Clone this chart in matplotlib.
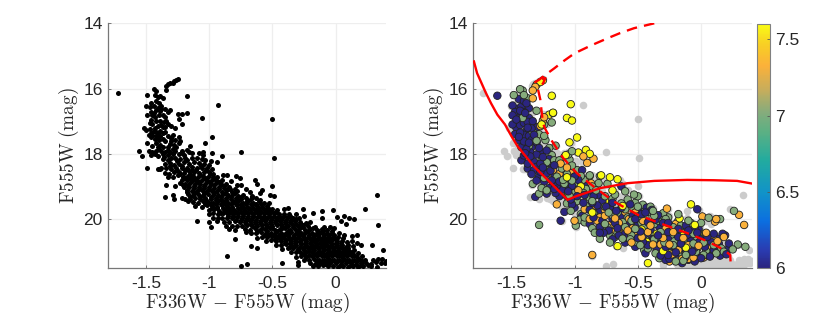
import numpy as np
import matplotlib
matplotlib.use('Agg')
import matplotlib.pyplot as plt
from matplotlib.colors import LinearSegmentedColormap

plt.rcParams['font.family'] = ['Liberation Sans', 'DejaVu Sans']
plt.rcParams['mathtext.fontset'] = 'cm'

# all stars, colour and magnitude
upper_stars = [(-1.25,15.7),(-1.26,15.74),(-1.28,15.78),(-1.29,15.82),(-1.31,15.84),(-1.33,15.86),(-1.34,15.93),(-1.34,16.04),
    (-1.725,16.15),(-1.49,16.2),(-1.44,16.02),(-1.42,16.08),(-1.43,16.2),(-1.39,16.24),(-1.18,16.22),(-1.37,16.3),(-1.42,16.38),(-1.4,16.45),
    (-1.5,16.52),(-1.47,16.58),(-1.44,16.55),(-1.38,16.52),(-1.35,16.62),(-1.42,16.66),(-1.39,16.7),(-1.31,16.65),(-1.33,16.72),(-1.49,16.82),
    (-1.45,16.8),(-1.43,16.88),(-1.4,16.82),(-1.37,16.8),(-1.35,16.88),(-1.25,16.79),(-1.22,16.78),(-1.18,16.74),(-1.24,16.92),(-1.06,16.9),
    (-0.93,16.5),(-0.5,16.93),(-1.46,16.96),(-1.42,17.0),(-1.39,16.98),(-1.36,17.02),(-1.33,17.08),(-1.22,17.08),(-1.45,17.1),(-1.41,17.14),
    (-1.37,17.18),(-1.3,17.15),(-1.27,17.2),(-1.52,17.22),(-1.5,17.26),(-1.47,17.25),(-1.44,17.3),(-1.42,17.33),(-1.39,17.3),(-1.35,17.32),
    (-1.45,17.42),(-1.42,17.46),(-1.39,17.44),(-1.29,17.42),(-1.24,17.47),(-1.3,17.52),(-0.98,17.5),(-1.43,17.55),(-1.4,17.58),(-1.37,17.56),
    (-1.27,17.58),(-1.23,17.6),(-1.49,17.66),(-1.42,17.66),(-1.03,17.66),(-1.31,17.7),(-1.28,17.72),(-1.24,17.68),(-1.41,17.78),(-1.37,17.8),
    (-1.33,17.78),(-1.29,17.84),(-1.26,17.8),(-1.15,17.76),(-1.56,17.92),(-1.48,17.92),(-1.45,17.95),(-1.42,17.92),(-1.38,17.92),(-1.35,17.95),
    (-1.31,17.94),(-1.27,17.9),(-1.22,17.9),(-1.18,17.88),(-1.16,17.95),(-0.98,17.96),(-0.75,17.93),(-1.05,17.93),(-1.53,18.08),(-1.46,18.05),
    (-1.41,18.08),(-1.37,18.02),(-1.33,18.05),(-1.29,18.02),(-1.24,18.02),(-1.2,18.04),(-1.05,18.05),(-0.9,18.06),(-0.49,18.12),(-0.99,18.22),
    (-0.94,18.26),(-1.41,16.26),(-1.46,16.45),(-1.41,16.6),(-1.46,16.72),(-1.38,16.62),(-1.44,16.76),(-1.34,16.98),(-1.47,17.06),(-1.43,17.22),
    (-1.385,17.12),(-1.35,17.18),(-1.46,17.35),(-1.48,17.42),(-1.41,17.38),(-1.37,17.37),(-1.33,17.46),(-1.46,17.5),(-1.405,17.5),(-1.35,17.62),
    (-1.39,17.72),(-1.45,17.75),(-1.3,17.62),(-1.325,17.88),(-1.395,17.86),(-1.43,18.0),(-1.36,18.1),(-1.22,17.97),(-1.14,17.98),(-1.08,17.98)]

band_upper = [(-1.49,18.42),(-1.41,18.48),(-1.38,18.45),(-1.37,18.15),(-1.33,18.18),(-1.3,18.12),(-1.27,18.14),(-1.23,18.16),(-1.19,18.14),(-1.14,18.12),
    (-1.1,18.12),(-1.06,18.15),(-1.03,18.18),(-1.35,18.3),(-1.31,18.28),(-1.28,18.33),(-1.24,18.3),(-1.2,18.26),(-1.16,18.3),(-1.12,18.25),
    (-1.08,18.28),(-1.04,18.3),(-1.0,18.34),(-1.39,18.48),(-1.34,18.42),(-1.3,18.46),(-1.26,18.44),(-1.22,18.42),(-1.18,18.44),(-1.14,18.4),
    (-1.1,18.42),(-1.06,18.44),(-1.02,18.44),(-0.98,18.46),(-1.35,18.58),(-1.32,18.62),(-1.28,18.56),(-1.24,18.56),(-1.2,18.58),(-1.16,18.54),
    (-1.12,18.55),(-1.08,18.58),(-1.04,18.56),(-1.0,18.56),(-0.97,18.62),(-1.33,18.7),(-1.29,18.7),(-1.25,18.66),(-1.21,18.7),(-1.17,18.68),
    (-1.13,18.68),(-1.09,18.7),(-1.05,18.68),(-1.01,18.7),(-0.97,18.7),(-0.94,18.72),(-0.89,18.66),(-0.86,18.66),(-0.79,18.67),(-0.76,18.75),
    (-0.64,18.8),(-1.22,18.8),(-1.18,18.8),(-1.14,18.82),(-1.1,18.82),(-1.06,18.8),(-1.02,18.82),(-0.98,18.8),(-0.94,18.82),(-0.9,18.8),
    (-0.83,18.84),(-0.62,18.92),(-1.23,18.9),(-1.19,18.92),(-1.15,18.9),(-1.11,18.92),(-1.07,18.94),(-1.03,18.92),(-0.99,18.92),(-0.95,18.9),
    (-0.91,18.92),(-0.87,18.94),(-0.78,18.96),(-0.75,18.97),(-0.5,18.98),(-1.34,18.96),(-1.27,18.98),(-1.2,19.02),(-1.16,19.02),(-1.12,19.04),
    (-1.08,19.02),(-1.04,19.04),(-1.0,19.02),(-0.96,19.04),(-0.92,19.02),(-0.88,19.06),(-0.84,19.02),(-0.8,19.08),(-0.71,19.08),(-0.58,19.12),
    (-1.18,19.12),(-1.14,19.14),(-1.1,19.14),(-1.06,19.12),(-1.02,19.14),(-0.98,19.14),(-0.94,19.14),(-0.9,19.16),(-0.86,19.12),(-0.82,19.16),
    (-0.78,19.14),(-0.68,19.18),(-0.6,19.2),(-1.29,19.26),(-1.17,19.24),(-1.13,19.26),(-1.09,19.24),(-1.05,19.26),(-1.01,19.24),(-0.97,19.26),
    (-0.93,19.26),(-0.89,19.24),(-0.85,19.26),(-0.81,19.24),(-0.77,19.28),(-0.73,19.26),(-0.66,19.28),(-0.52,19.26),(-0.49,19.3),(-1.35,19.32),
    (-1.28,19.4),(-1.22,19.35),(-1.19,19.38),(-1.15,19.38),(-1.11,19.36),(-1.07,19.38),(-1.03,19.36),(-0.99,19.38),(-0.95,19.36),(-0.91,19.38),
    (-0.87,19.36),(-0.83,19.38),(-0.79,19.36),(-0.75,19.4),(-0.71,19.36),(-0.67,19.38),(-0.63,19.36),(-0.6,19.42)]

band_middle = [(-1.17,19.46),(-1.13,19.48),(-1.09,19.5),(-1.05,19.46),(-1.01,19.48),(-0.97,19.5),(-0.93,19.46),(-0.89,19.48),(-0.85,19.5),(-0.81,19.48),
    (-0.77,19.46),(-0.73,19.5),(-0.69,19.46),(-0.65,19.5),(-0.61,19.46),(-0.57,19.5),(-0.53,19.52),(-1.11,19.6),(-1.06,19.62),(-1.02,19.58),
    (-0.98,19.6),(-0.94,19.62),(-0.9,19.58),(-0.86,19.6),(-0.82,19.62),(-0.78,19.58),(-0.74,19.6),(-0.7,19.62),(-0.66,19.58),(-0.62,19.6),
    (-0.58,19.62),(-0.54,19.6),(-0.41,19.68),(-0.38,19.66),(-0.5,19.7),(-0.46,19.72),(-1.0,19.72),(-0.96,19.7),(-0.92,19.74),(-0.88,19.7),
    (-0.84,19.72),(-0.8,19.74),(-0.76,19.7),(-0.72,19.74),(-0.68,19.7),(-0.64,19.72),(-0.6,19.74),(-0.56,19.72),(-0.52,19.76),(-0.26,19.68),
    (-1.0,19.84),(-0.97,19.82),(-0.93,19.86),(-0.89,19.82),(-0.85,19.84),(-0.81,19.86),(-0.77,19.82),(-0.73,19.86),(-0.69,19.82),(-0.65,19.86),
    (-0.61,19.84),(-0.57,19.82),(-0.53,19.86),(-0.49,19.82),(-0.45,19.84),(-0.41,19.86),(-0.37,19.84),(-0.31,19.86),(-0.18,19.82),(-0.11,19.75),
    (-0.02,19.73),(-1.1,20.05),(-0.97,19.96),(-0.93,19.96),(-0.9,19.98),(-0.86,19.96),(-0.82,19.98),(-0.78,19.94),(-0.74,19.98),(-0.7,19.96),
    (-0.66,19.98),(-0.62,19.94),(-0.58,19.98),(-0.54,19.96),(-0.5,19.98),(-0.46,19.96),(-0.42,19.98),(-0.38,19.94),(-0.34,19.98),(-0.29,19.96),
    (-0.25,19.92),(-0.11,19.98),(0.01,19.95),(0.07,19.92),(-1.0,20.08),(-0.94,20.06),(-0.88,20.08),(-0.84,20.1),(-0.8,20.06),(-0.76,20.08),
    (-0.72,20.1),(-0.68,20.06),(-0.64,20.08),(-0.6,20.1),(-0.56,20.06),(-0.52,20.1),(-0.48,20.08),(-0.44,20.06),(-0.4,20.1),(-0.36,20.08),
    (-0.32,20.06),(-0.28,20.1),(-0.2,20.08),(0.11,19.97),(0.15,20.0),(0.04,20.05),(-0.99,20.24),(-0.87,20.22),(-0.82,20.2),(-0.78,20.2),
    (-0.74,20.22),(-0.7,20.18),(-0.66,20.22),(-0.62,20.2),(-0.58,20.18),(-0.54,20.22),(-0.5,20.2),(-0.46,20.18),(-0.42,20.22),(-0.38,20.2),
    (-0.34,20.18),(-0.3,20.22),(-0.26,20.18),(-0.22,20.2),(-0.16,20.24),(-0.09,20.24),(-0.04,20.25),(-0.01,20.26),(0.08,20.15),(0.34,20.18),
    (0.33,19.25),(0.23,19.68),(-0.84,20.3),(-0.8,20.32),(-0.72,20.3),(-0.68,20.32),(-0.64,20.28),(-0.6,20.32),(-0.56,20.3),(-0.52,20.28),
    (-0.48,20.32),(-0.44,20.3),(-0.4,20.28),(-0.36,20.32),(-0.32,20.3),(-0.28,20.28),(-0.24,20.32),(-0.2,20.3),(-0.15,20.33),(-0.11,20.3),
    (-0.07,20.33),(-0.03,20.36)]

band_lower = [(-0.71,20.4),(-0.67,20.42),(-0.63,20.44),(-0.59,20.4),(-0.55,20.44),(-0.51,20.42),(-0.47,20.4),(-0.43,20.44),(-0.39,20.42),(-0.35,20.4),
    (-0.31,20.44),(-0.27,20.42),(-0.23,20.4),(-0.19,20.44),(-0.15,20.42),(-0.11,20.4),(-0.07,20.44),(-0.03,20.42),(0.03,20.42),(0.07,20.5),
    (0.13,20.52),(0.17,20.5),(-0.8,20.6),(-0.62,20.58),(-0.58,20.54),(-0.54,20.56),(-0.5,20.52),(-0.46,20.56),(-0.42,20.54),(-0.38,20.52),
    (-0.34,20.56),(-0.3,20.54),(-0.26,20.52),(-0.22,20.56),(-0.18,20.54),(-0.14,20.52),(-0.1,20.56),(-0.06,20.54),(-0.02,20.56),(0.02,20.54),
    (0.06,20.58),(-0.55,20.66),(-0.51,20.64),(-0.47,20.68),(-0.43,20.66),(-0.39,20.64),(-0.35,20.68),(-0.31,20.66),(-0.27,20.64),(-0.23,20.68),
    (-0.19,20.66),(-0.15,20.64),(-0.11,20.68),(-0.07,20.66),(-0.03,20.64),(0.01,20.68),(0.05,20.66),(0.09,20.7),(0.13,20.68),(0.17,20.72),
    (-0.67,20.84),(-0.62,20.88),(-0.47,20.78),(-0.43,20.8),(-0.39,20.76),(-0.35,20.8),(-0.31,20.78),(-0.27,20.76),(-0.23,20.8),(-0.19,20.78),
    (-0.15,20.76),(-0.11,20.8),(-0.07,20.78),(-0.03,20.76),(0.01,20.8),(0.05,20.78),(0.1,20.8),(0.14,20.82),(0.2,20.8),(0.29,20.78),
    (-0.42,20.92),(-0.38,20.9),(-0.34,20.88),(-0.3,20.92),(-0.26,20.9),(-0.22,20.88),(-0.18,20.92),(-0.14,20.9),(-0.1,20.88),(-0.06,20.92),
    (-0.02,20.9),(0.02,20.88),(0.06,20.92),(0.1,20.9),(0.15,20.94),(0.38,20.95),(-0.35,21.02),(-0.31,21.0),(-0.27,21.04),(-0.23,21.0),
    (-0.19,21.02),(-0.15,21.04),(-0.11,21.0),(-0.07,21.04),(-0.03,21.02),(0.01,21.0),(0.05,21.04),(0.09,21.02),(0.13,21.0),(0.18,21.04),
    (-0.86,21.12),(-0.31,21.15),(-0.27,21.12),(-0.23,21.16),(-0.19,21.12),(-0.15,21.14),(-0.11,21.12),(-0.07,21.16),(-0.03,21.14),(0.01,21.12),
    (0.05,21.16),(0.09,21.14),(0.13,21.12),(0.17,21.16),(0.21,21.14),(-0.25,21.24),(-0.21,21.26),(-0.17,21.22),(-0.13,21.26),(-0.09,21.24),
    (-0.05,21.22),(-0.01,21.26),(0.03,21.24),(0.07,21.22),(0.11,21.26),(0.15,21.24),(0.19,21.22),(0.23,21.26),(0.3,21.27),(0.34,21.22),
    (0.37,21.22),(0.4,21.28),(-0.7,21.38),(-0.75,21.43),(-0.42,21.35),(-0.3,21.42),(-0.3,21.32),(-0.2,21.36),(-0.16,21.38),(-0.12,21.34),
    (-0.08,21.38),(-0.04,21.36),(0.0,21.34),(0.04,21.38),(0.08,21.36),(0.12,21.34),(0.16,21.38),(0.2,21.36),(0.24,21.34),(0.28,21.38),
    (0.32,21.32),(0.36,21.34),(0.39,21.35),(-0.02,21.44),(0.02,21.46),(0.06,21.44),(0.1,21.46),(0.14,21.44),(0.18,21.46),(0.22,21.44),
    (0.26,21.42),(0.33,21.46),(-0.06,21.45),(-0.1,21.42)]

band_core = [(-1.315,18.37),(-1.255,18.23),(-1.215,18.36),(-1.175,18.2),(-1.135,18.49),(-1.255,18.5),(-1.195,18.5),(-1.155,18.62),(-1.105,18.5),(-1.065,18.36),
    (-1.025,18.5),(-1.23,18.63),(-1.19,18.75),(-1.15,18.74),(-1.115,18.76),(-1.075,18.64),(-1.035,18.75),(-0.995,18.63),(-0.955,18.78),(-1.21,18.97),
    (-1.165,18.96),(-1.125,18.98),(-1.085,18.87),(-1.045,18.98),(-1.005,18.87),(-0.965,18.97),(-0.925,18.87),(-0.885,18.99),(-1.175,19.18),(-1.125,19.2),
    (-1.085,19.08),(-1.04,19.2),(-1.005,19.08),(-0.965,19.2),(-0.925,19.09),(-0.875,19.19),(-0.835,19.09),(-0.795,19.21),(-1.155,19.32),(-1.07,19.32),
    (-1.025,19.42),(-0.985,19.32),(-0.945,19.42),(-0.905,19.31),(-0.865,19.43),(-0.825,19.31),(-0.785,19.43),(-0.745,19.33),(-0.705,19.44),(-0.665,19.33),
    (-1.03,19.53),(-0.99,19.55),(-0.95,19.54),(-0.91,19.53),(-0.87,19.55),(-0.83,19.54),(-0.79,19.53),(-0.75,19.55),(-0.71,19.54),(-0.67,19.55),
    (-0.63,19.53),(-0.59,19.55),(-0.975,19.66),(-0.935,19.67),(-0.895,19.65),(-0.855,19.66),(-0.815,19.68),(-0.775,19.65),(-0.735,19.67),(-0.695,19.66),
    (-0.655,19.65),(-0.615,19.67),(-0.575,19.67),(-0.535,19.65),(-0.91,19.8),(-0.87,19.77),(-0.83,19.79),(-0.79,19.78),(-0.75,19.79),(-0.71,19.78),
    (-0.67,19.77),(-0.63,19.79),(-0.59,19.78),(-0.55,19.79),(-0.51,19.78),(-0.47,19.79),(-0.85,19.9),(-0.81,19.92),(-0.77,19.9),(-0.73,19.92),
    (-0.69,19.91),(-0.65,19.92),(-0.61,19.9),(-0.57,19.91),(-0.53,19.92),(-0.49,19.9),(-0.45,19.91),(-0.41,19.92),(-0.36,19.9),(-0.79,20.03),
    (-0.75,20.03),(-0.71,20.02),(-0.67,20.03),(-0.63,20.02),(-0.59,20.03),(-0.55,20.01),(-0.51,20.03),(-0.47,20.02),(-0.43,20.03),(-0.39,20.02),
    (-0.35,20.03),(-0.31,20.01),(-0.71,20.14),(-0.67,20.14),(-0.63,20.15),(-0.59,20.14),(-0.55,20.15),(-0.51,20.14),(-0.47,20.13),(-0.43,20.15),
    (-0.39,20.14),(-0.35,20.13),(-0.31,20.15),(-0.27,20.14),(-0.23,20.13),(-0.62,20.36),(-0.58,20.26),(-0.54,20.36),(-0.5,20.26),(-0.46,20.36),
    (-0.42,20.26),(-0.38,20.36),(-0.34,20.25),(-0.3,20.36),(-0.26,20.25),(-0.22,20.36),(-0.18,20.26),(-0.14,20.37),(-0.1,20.36),(-0.57,20.49),
    (-0.53,20.49),(-0.49,20.48),(-0.45,20.49),(-0.41,20.48),(-0.37,20.47),(-0.33,20.49),(-0.29,20.48),(-0.25,20.47),(-0.21,20.49),(-0.17,20.48),
    (-0.13,20.47),(-0.09,20.49),(-0.05,20.48),(-0.01,20.49),(-0.48,20.61),(-0.44,20.6),(-0.4,20.6),(-0.36,20.61),(-0.32,20.6),(-0.28,20.61),
    (-0.24,20.6),(-0.2,20.61),(-0.16,20.6),(-0.12,20.61),(-0.08,20.6),(-0.04,20.61),(0.0,20.6),(-0.4,20.72),(-0.36,20.73),(-0.32,20.72),
    (-0.28,20.71),(-0.24,20.73),(-0.2,20.72),(-0.16,20.71),(-0.12,20.73),(-0.08,20.72),(-0.04,20.71),(0.0,20.73),(0.04,20.72),(-0.36,20.85),
    (-0.32,20.84),(-0.28,20.85),(-0.24,20.84),(-0.2,20.85),(-0.16,20.84),(-0.12,20.85),(-0.08,20.84),(-0.04,20.85),(0.0,20.84),(0.04,20.85),
    (0.08,20.85),(-0.29,20.97),(-0.25,20.96),(-0.21,20.97),(-0.17,20.96),(-0.13,20.97),(-0.09,20.96),(-0.05,20.97),(-0.01,20.96),(0.03,20.97),
    (0.07,20.96),(0.11,20.97),(-0.25,21.08),(-0.21,21.09),(-0.17,21.08),(-0.13,21.07),(-0.09,21.09),(-0.05,21.08),(-0.01,21.07),(0.03,21.09),
    (0.07,21.08),(0.11,21.07),(0.15,21.09),(-0.15,21.3),(-0.11,21.3),(-0.07,21.28),(-0.03,21.3),(0.01,21.3),(0.05,21.29),(0.09,21.3),(0.13,21.29),
    (0.17,21.3),(0.21,21.29),(-0.14,21.43),(-0.18,21.43),(0.04,21.42),(0.12,21.41),(0.2,21.41),(0.28,21.44)]

# dereddened stars of the right panel, one list per age group
age_groups = [6.0, 7.02, 7.32, 7.6]
young_stars = [(-1.61,16.22),(-1.49,16.52),(-1.45,16.62),(-1.42,16.55),(-1.4,16.38),(-1.38,16.45),(-1.36,16.6),(-1.49,16.82),(-1.46,16.95),(-1.42,16.85),
    (-1.39,16.75),(-1.36,16.9),(-1.33,17.0),(-1.49,17.1),(-1.46,17.2),(-1.43,17.12),(-1.4,17.05),(-1.37,17.2),(-1.34,17.22),(-1.3,17.18),
    (-1.47,17.4),(-1.43,17.35),(-1.4,17.42),(-1.36,17.45),(-1.32,17.42),(-1.44,17.58),(-1.4,17.62),(-1.36,17.66),(-1.3,17.65),(-1.42,17.8),
    (-1.38,17.86),(-1.34,17.8),(-1.28,17.82),(-1.22,17.9),(-1.4,18.05),(-1.35,18.08),(-1.3,18.02),(-1.25,18.1),(-1.2,18.16),(-1.37,18.3),
    (-1.32,18.25),(-1.27,18.3),(-1.22,18.36),(-1.16,18.35),(-1.37,18.45),(-1.32,18.5),(-1.27,18.55),(-1.22,18.6),(-1.16,18.62),(-1.1,18.6),
    (-1.24,18.85),(-1.18,18.82),(-1.12,18.85),(-1.06,18.9),(-1.0,18.7),(-0.97,18.8),(-1.16,19.08),(-1.1,19.1),(-1.05,19.15),(-0.98,19.1),
    (-0.9,18.98),(-1.31,19.32),(-1.22,19.22),(-1.12,19.3),(-1.06,19.3),(-0.98,19.3),(-0.92,19.26),(-0.85,19.3),(-1.02,19.55),(-0.93,19.5),
    (-0.86,19.5),(-0.78,19.44),(-0.7,19.5),(-0.63,19.0),(-1.11,20.05),(-0.88,19.72),(-0.8,19.72),(-0.72,19.65),(-0.63,19.66),(-0.56,19.55),
    (-0.85,19.95),(-0.78,20.05),(-0.7,20.0),(-0.62,19.92),(-0.54,19.9),(-0.47,19.85),(-0.39,19.72),(-0.43,19.65),(-0.8,20.25),(-0.73,20.35),
    (-0.66,20.28),(-0.58,20.2),(-0.5,20.15),(-0.42,20.1),(-0.36,20.02),(-0.65,20.5),(-0.56,20.42),(-0.48,20.38),(-0.4,20.32),(-0.33,20.24),
    (-0.26,20.12),(-0.03,19.7),(-0.5,20.58),(-0.42,20.55),(-0.34,20.5),(-0.26,20.4),(-0.18,20.3),(-0.12,20.2),(-0.05,20.25),(-0.02,20.3),
    (-0.42,20.8),(-0.34,20.72),(-0.26,20.62),(-0.18,20.55),(-0.1,20.48),(-0.03,20.42),(0.05,20.55),(0.17,20.45),(0.19,20.5),(-0.32,20.95),
    (-0.24,20.85),(-0.16,20.75),(-0.08,20.68),(0.0,20.62),(0.08,20.7),(0.14,20.75),(0.22,20.9),(-0.2,21.02),(-0.12,20.95),(-0.05,20.88),
    (0.03,20.85),(0.1,20.95),(0.22,20.75),(-0.2,21.18),(-0.13,21.2),(-0.05,21.12),(0.0,21.2),(0.05,21.1),(-0.1,21.25),(-0.32,21.12),
    (-0.25,21.22),(0.13,20.6),(-1.28,18.7),(-1.18,18.42),(-0.94,18.5),(-1.4,16.72),(-1.44,17.02),(-1.34,17.58),(-1.26,17.96),(-1.02,18.98),
    (-0.6,20.45),(-0.46,20.7),(-0.28,20.85),(-0.07,21.0),
    (-1.44,16.32),(-1.47,16.72),(-1.43,16.68),(-1.37,17.02),(-1.44,17.48),(-1.38,17.3),(-1.34,17.48),(-1.4,17.72),(-1.35,17.95),(-1.42,18.2),
    (-1.39,17.98),(-1.3,18.4),(-1.25,18.42),(-1.34,18.62),(-1.19,18.52),(-1.3,18.82),(-1.14,18.98),(-1.2,19.05),(-1.08,19.0),(-1.15,19.2),
    (-1.03,19.4),(-0.88,19.14),(-0.8,19.28),(-0.75,19.62),(-0.82,19.58),(-0.67,19.75),(-0.5,19.72),(-0.44,19.8),(-0.68,20.12),(-0.52,20.0),
    (-0.34,19.88),(-0.58,20.3),(-0.45,20.48),(-0.3,20.12),(-0.2,20.18),(-0.38,20.62),(-0.1,20.35),(0.1,20.45),(-0.2,20.9),(-0.02,20.72),
    (-1.0,19.65),(-0.94,19.9),(-0.88,20.15),(-0.77,20.42),(-0.7,20.62),(-0.6,20.72),(-0.52,20.85),(-0.44,21.05),(-0.35,20.9),(-0.28,21.25),
    (-0.15,21.35),(-0.05,21.3),(-1.08,19.78),(-0.8,20.42),(-0.58,20.58),(-0.26,21.1),(-0.02,21.12),(0.07,21.15),(0.15,21.12),(0.2,21.08)]

mid_stars = [(-1.43,16.02),(-1.41,16.06),(-1.48,16.2),(-1.4,16.2),(-1.37,16.3),(-1.3,16.68),(-1.24,17.1),(-1.18,17.04),(-1.17,16.75),(-1.36,17.75),
    (-1.28,17.4),(-1.23,17.58),(-1.3,17.6),(-1.2,17.82),(-1.15,17.75),(-1.26,18.2),(-1.18,18.04),(-1.08,18.1),(-1.02,17.92),(-1.05,18.02),
    (-1.12,18.2),(-1.02,18.36),(-0.98,18.5),(-1.2,18.5),(-1.14,18.7),(-1.06,18.62),(-1.33,18.92),(-1.26,19.05),(-1.28,19.22),(-1.22,19.12),
    (-1.15,18.98),(-1.09,18.8),(-1.02,18.82),(-0.95,18.68),(-0.88,18.66),(-0.8,18.68),(-0.74,18.92),(-0.81,18.9),(-0.6,19.15),(-0.53,19.25),
    (-0.5,19.3),(-1.28,20.18),(-1.04,19.28),(-0.98,19.45),(-0.95,19.85),(-0.92,19.95),(-0.99,20.2),(-0.85,19.82),(-0.76,19.3),(-0.68,19.25),
    (-0.58,19.4),(-0.52,19.5),(-0.73,19.8),(-0.66,19.8),(-0.6,19.7),(-0.48,19.7),(-0.4,19.62),(-0.76,20.15),(-0.8,20.6),(-0.72,20.5),
    (-0.62,20.1),(-0.55,20.05),(-0.44,19.95),(-0.37,19.9),(-0.3,19.82),(-0.18,19.85),(-0.18,20.05),(-0.62,20.6),(-0.52,20.3),(-0.45,20.25),
    (-0.37,20.15),(-0.28,20.0),(-0.22,20.25),(-0.13,20.3),(0.06,19.96),(0.15,20.0),(0.26,19.75),(0.25,20.93),(0.29,20.78),(0.35,20.85),
    (-0.48,20.8),(-0.4,20.45),(-0.32,20.4),(-0.24,20.5),(-0.15,20.42),(-0.06,20.45),(0.04,20.48),(-0.45,20.95),(-0.37,20.62),(-0.29,20.72),
    (-0.21,20.68),(-0.12,20.62),(-0.04,20.58),(-0.36,21.05),(-0.3,20.85),(-0.22,20.8),(-0.14,20.85),(-0.06,20.75),(0.02,20.72),(0.1,20.8),
    (-0.19,21.28),(-0.12,21.1),(-0.04,21.0),(0.04,20.98),(0.12,21.05),(0.18,21.0),(-0.08,21.15),(0.02,21.1),(-1.41,16.9),(-1.33,17.34),
    (-1.24,17.45),(-1.36,18.22),(-1.22,18.26),(-1.1,18.45),(-0.92,18.8),(-0.86,19.0),(-0.93,19.2),(-0.83,19.12),(-0.76,19.62),(-0.88,19.35),
    (-1.16,18.2),(-1.04,18.18),(-1.24,18.74),(-1.17,18.88),(-1.08,18.92),(-1.0,18.96),(-0.91,19.08),(-1.1,19.22),(-1.0,19.2),(-0.86,19.45),
    (-0.9,19.6),(-1.06,19.52),(-0.7,19.38),(-0.63,19.52),(-0.55,19.62),(-0.46,19.56),(-0.7,19.88),(-0.58,19.95),(-0.5,19.92),(-0.42,19.78),
    (-0.68,20.3),(-0.6,20.25),(-0.47,20.12),(-0.34,20.05),(-0.26,19.95),(-0.55,20.5),(-0.44,20.62),(-0.32,20.55),(-0.16,20.2),(-0.08,20.12),
    (-0.96,20.02),(-0.86,20.28),(-0.74,20.25),(-0.66,20.42),(-0.72,20.72),(-0.56,20.62),(-0.5,20.72),(-0.42,20.9),(-0.33,21.2),(-0.3,21.08),
    (-0.2,21.3),(-0.14,21.28),(-1.03,19.75),(-0.92,20.1),(-0.84,20.42),(-0.68,20.55),(-0.18,21.1),(0.08,21.08),(-0.5,19.62),(-0.38,19.75),
    (-0.32,19.98),(-0.1,20.05),(0.0,20.12),(0.16,20.9)]

old_stars = [(-1.33,16.06),(-1.33,16.3),(-1.3,15.88),(-1.31,15.95),(-1.24,16.88),(-1.25,16.98),(-0.93,18.08),(-0.9,18.28),(-0.85,18.15),(-1.11,18.3),
    (-1.06,18.42),(-1.17,18.5),(-1.12,18.62),(-1.03,18.6),(-1.0,18.7),(-0.94,18.95),(-0.87,18.9),(-0.97,19.12),(-1.14,19.55),(-1.0,20.05),
    (-0.92,19.7),(-0.85,19.85),(-0.82,20.05),(-0.76,19.9),(-0.68,19.98),(-0.6,19.78),(-0.52,19.8),(-0.86,21.1),(-0.72,20.18),(-0.65,20.12),
    (-0.57,20.0),(-0.46,20.05),(-0.27,19.68),(-0.58,20.35),(-0.5,20.42),(-0.42,20.4),(-0.34,20.15),(-0.28,20.3),(-0.2,20.15),(0.01,19.92),
    (0.12,20.0),(0.11,20.08),(0.3,19.87),(0.34,20.18),(-0.55,20.72),(-0.47,20.55),(-0.38,20.78),(-0.3,20.58),(-0.22,20.4),(-0.14,20.58),
    (-0.02,20.38),(0.04,20.42),(0.13,20.68),(0.18,20.55),(-0.25,20.78),(-0.18,20.95),(-0.1,20.8),(-0.02,20.82),(0.06,20.88),(-0.12,21.02),
    (-0.23,21.08),(-0.15,21.22),(-0.32,20.78),(0.1,20.62),(-1.27,17.15),(-1.2,18.6),(-0.7,20.4),(-0.62,20.25),(-0.76,19.72),(-0.1,21.22),
    (-0.84,19.6),(-0.8,19.95),(-0.72,19.68),(-0.56,20.18),(-0.4,20.2),(-1.08,18.5),(-0.98,18.86),
    (-0.88,20.0),(-0.64,20.38),(-0.48,20.62),(-0.35,20.95),(-0.06,21.18),(0.02,21.18),(-0.25,21.3),(-0.54,20.28)]

oldest_stars = [(-1.25,15.75),(-1.27,15.8),(-1.18,16.22),(-1.03,16.48),(-1.06,16.9),(-1.02,16.98),(-1.2,16.8),(-1.17,16.74),(-1.26,17.1),(-0.98,17.5),
    (-1.04,17.65),(-0.97,17.96),(-1.07,18.04),(-0.91,17.88),(-0.88,18.0),(-1.06,18.72),(-0.88,18.68),(-0.79,18.66),(-0.72,18.72),(-0.66,18.78),
    (-0.7,19.12),(-1.05,19.22),(-0.86,19.8),(-0.62,19.6),(-0.76,19.45),(-0.62,20.2),(-0.66,20.83),(-0.42,21.35),(-0.38,20.65),(-0.52,19.9),
    (-0.43,20.7),(-0.35,20.45),(-0.3,20.98),(-0.27,20.2),(-0.17,19.98),(-0.08,19.55),(-0.14,20.5),(-0.05,20.18),(-0.2,20.6),(-0.24,21.05),
    (-0.12,20.88),(0.03,20.45),(-0.34,21.05),(-0.47,20.32),(-0.03,20.9),(-0.95,19.0)]

# isochrones
solid_color = [-1.795,-1.77,-1.74,-1.70,-1.66,-1.61,-1.55,-1.50,-1.45,-1.32,-1.16,-1.055,-0.98,-0.795,-0.58,-0.37,-0.11,0.1,0.285,0.4]
solid_mag = [15.17,15.53,15.79,16.14,16.45,16.8,17.1,17.45,17.77,18.39,19.0,19.41,19.29,19.05,18.9,18.83,18.8,18.81,18.83,18.91]
dashed_color = [-0.37,-0.53,-0.64,-0.74,-0.87,-1.0,-1.08,-1.16,-1.23,-1.28,-1.31,-1.23,-1.25,-1.29,-1.27,-1.25,-1.23,-1.18,-1.09,-0.98,-0.85,-0.69,-0.5,-0.295,-0.11,0.05,0.18,0.23,0.235]
dashed_mag = [14.0,14.15,14.3,14.46,14.68,14.92,15.14,15.38,15.58,15.73,15.8,15.68,15.85,16.0,16.35,17.06,17.25,17.6,18.13,18.6,19.0,19.46,19.87,20.17,20.43,20.68,20.94,21.1,21.45]

x_ticks = [-1.5, -1, -0.5, 0]
x_labels = ['-1.5', '-1', '-0.5', '0']
y_ticks = [14, 16, 18, 20]
cbar_ticks = [6, 6.5, 7, 7.5]
cbar_labels = ['6', '6.5', '7', '7.5']

parula = LinearSegmentedColormap.from_list('parula', [
    (0.0, '#2b2580'), (0.07, '#2a3bb0'), (0.19, '#0c6fe0'), (0.31, '#1193c8'), (0.44, '#22ab9f'),
    (0.56, '#5cb083'), (0.64, '#86ac7c'), (0.73, '#c6ad5c'), (0.83, '#fbb13a'), (0.92, '#f8d024'), (1.0, '#f9fb15')])
age_norm = plt.Normalize(6, 7.6)

all_stars = np.array(upper_stars + band_upper + band_middle + band_lower + band_core)

fig = plt.figure(figsize=(8.3, 3.19), dpi=100)
W, H = 830, 319
ax1 = fig.add_axes([108.3/W, 1-268/H, 277.7/W, 244.7/H])
ax2 = fig.add_axes([473.3/W, 1-268/H, 278.4/W, 244.7/H])
cax = fig.add_axes([757/W, 1-268/H, 13/W, 244/H])

ax1.scatter(all_stars[:, 0], all_stars[:, 1], s=13, c='black', linewidths=0, zorder=3)

ax2.scatter(all_stars[:, 0], all_stars[:, 1], s=30, c='#cccccc', linewidths=0, zorder=2)
# colour groups mixed together, as the stars overlap in the reference
colored = []
for age, group in zip(age_groups, [young_stars, mid_stars, old_stars, oldest_stars]):
    colored += [(c, m, age) for c, m in group]
colored = np.array(colored)
order = np.argsort((colored[:, 0] * 731 + colored[:, 1] * 197) % 1)
colored = colored[order]
ax2.scatter(colored[:, 0], colored[:, 1], s=29, c=colored[:, 2], cmap=parula, norm=age_norm,
            edgecolors='#222222', linewidths=0.6, zorder=3)
ax2.plot(solid_color, solid_mag, color='red', linewidth=1.7, zorder=4)
ax2.plot(dashed_color, dashed_mag, color='red', linewidth=1.7, linestyle=(0, (4.5, 3)), zorder=4)

for ax in [ax1, ax2]:
    ax.set_xlim(-1.8, 0.4)
    ax.set_ylim(21.5, 14)
    ax.set_xticks(x_ticks)
    ax.set_xticklabels(x_labels)
    ax.set_yticks(y_ticks)
    ax.grid(True, color='#eeeeee', linewidth=0.9)
    ax.set_axisbelow(True)
    ax.tick_params(direction='in', length=2.5, width=0.6, color='#666666', labelsize=12.5, labelcolor='#262626', pad=4)
    ax.tick_params(axis='x', pad=6)
    for side in ['top', 'right']:
        ax.spines[side].set_visible(False)
    for side in ['left', 'bottom']:
        ax.spines[side].set_color('#777777')
        ax.spines[side].set_linewidth(0.9)
    ax.set_xlabel(r'$\mathrm{F336W\,-\,F555W\ (mag)}$', fontsize=13.8, color='#262626', labelpad=0)
    ax.set_ylabel(r'$\mathrm{F555W\ (mag)}$', fontsize=13.8, color='#262626', labelpad=2)

sm = plt.cm.ScalarMappable(norm=age_norm, cmap=parula)
cb = fig.colorbar(sm, cax=cax)
cb.set_ticks(cbar_ticks)
cb.set_ticklabels(cbar_labels)
cb.ax.tick_params(direction='in', length=2, width=0.6, color='#555555', labelsize=12.5, labelcolor='#262626', pad=4)
cb.outline.set_edgecolor('#808080')
cb.outline.set_linewidth(0.8)

plt.savefig('out.png', dpi=100)
plt.close()
